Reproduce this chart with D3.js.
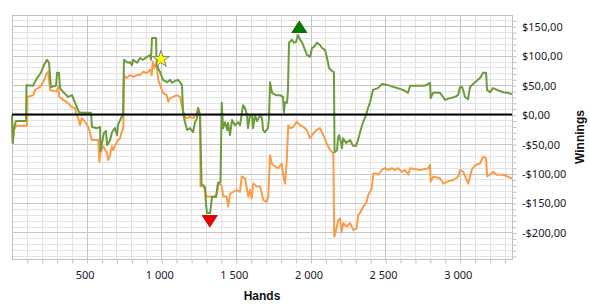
<!DOCTYPE html>
<html>
<head>
<meta charset="utf-8">
<script src="https://cdn.jsdelivr.net/npm/d3@7/dist/d3.min.js"></script>
<style>
  html, body { margin: 0; padding: 0; background: #fff; }
  svg { display: block; }
</style>
</head>
<body>
<svg id="chart" width="590" height="304"></svg>
<script>
// ---- data ----
const greenSeries = [[0,-1],[5,-48],[13,-23],[27,-11],[94,-11],[97,50],[141,49],[168,62],[194,71],[214,84],[235,93],[248,88],[261,47],[295,49],[302,71],[315,71],[322,45],[348,37],[375,30],[402,33],[415,25],[429,16],[449,4],[469,3],[529,3],[536,-21],[570,-23],[590,-21],[593,-62],[616,-31],[630,-28],[637,-52],[657,-43],[670,-30],[690,-23],[704,-35],[710,-18],[730,-6],[744,-1],[750,93],[777,88],[791,89],[804,84],[811,93],[838,88],[858,96],[878,93],[905,98],[925,101],[931,93],[938,130],[965,130],[968,96],[978,79],[992,72],[1012,59],[1039,55],[1059,59],[1072,54],[1092,57],[1112,59],[1126,55],[1139,50],[1146,4],[1159,-13],[1173,-26],[1193,-23],[1213,-30],[1226,-13],[1240,-6],[1246,11],[1260,-1],[1270,-119],[1293,-123],[1300,-153],[1307,-167],[1327,-167],[1340,-140],[1367,-140],[1380,-116],[1397,-114],[1405,20],[1414,-23],[1427,-13],[1441,-26],[1447,-14],[1461,-35],[1474,-9],[1494,-18],[1514,-13],[1528,-18],[1541,4],[1548,16],[1561,11],[1575,-1],[1581,-23],[1595,-1],[1608,-1],[1615,-23],[1628,-1],[1642,-11],[1662,-1],[1675,-6],[1682,-26],[1695,-30],[1715,-23],[1722,-6],[1729,55],[1742,37],[1769,33],[1796,33],[1816,30],[1822,4],[1829,21],[1843,20],[1849,42],[1856,122],[1876,127],[1889,122],[1903,123],[1916,135],[1930,127],[1943,123],[1963,110],[1977,101],[1997,98],[2010,113],[2023,115],[2044,122],[2064,118],[2077,113],[2097,110],[2111,96],[2124,79],[2144,74],[2157,72],[2161,-64],[2178,-60],[2184,-40],[2191,-35],[2204,-47],[2211,-57],[2218,-40],[2238,-48],[2265,-43],[2285,-53],[2305,-53],[2318,-43],[2332,-30],[2352,-13],[2372,-1],[2385,11],[2399,21],[2419,42],[2452,45],[2479,52],[2519,50],[2553,47],[2580,45],[2620,42],[2653,37],[2667,49],[2700,49],[2767,49],[2801,54],[2805,28],[2821,37],[2868,37],[2888,30],[2901,25],[2935,28],[2968,30],[2988,33],[3002,47],[3015,47],[3022,42],[3035,30],[3055,26],[3069,47],[3102,55],[3136,62],[3156,71],[3176,71],[3183,42],[3203,38],[3223,45],[3250,42],[3290,38],[3317,37],[3350,35]];

const orangeSeries = [[0,-1],[5,-48],[13,-26],[27,-19],[101,-19],[103,30],[143,33],[154,42],[188,47],[210,56],[221,62],[232,70],[243,73],[255,42],[299,39],[310,47],[317,30],[344,25],[377,19],[400,13],[422,11],[433,-1],[444,-6],[456,-18],[467,-6],[489,-12],[511,-21],[523,-31],[534,-43],[578,-43],[585,-80],[594,-63],[612,-54],[634,-63],[645,-77],[657,-69],[668,-54],[679,-60],[690,-52],[712,-43],[724,-40],[735,-29],[746,-23],[750,67],[768,62],[791,67],[813,64],[835,67],[858,67],[880,73],[902,70],[925,76],[936,67],[943,90],[951,79],[965,87],[974,73],[980,59],[992,50],[1014,36],[1036,33],[1047,22],[1059,28],[1081,30],[1103,33],[1126,30],[1137,16],[1148,5],[1159,-4],[1170,-6],[1193,-4],[1215,-6],[1237,2],[1248,11],[1260,-1],[1263,-122],[1282,-119],[1304,-139],[1349,-139],[1371,-136],[1382,-119],[1394,-117],[1405,-122],[1416,-139],[1438,-139],[1449,-156],[1461,-134],[1483,-131],[1505,-128],[1528,-131],[1539,-105],[1561,-108],[1583,-139],[1595,-128],[1606,-142],[1617,-117],[1639,-122],[1662,-122],[1684,-145],[1706,-148],[1717,-139],[1729,-69],[1740,-83],[1762,-88],[1784,-91],[1807,-83],[1818,-105],[1829,-117],[1840,-83],[1851,-18],[1863,-23],[1885,-21],[1907,-12],[1930,-18],[1952,-21],[1974,-26],[1997,-40],[2019,-32],[2041,-26],[2064,-23],[2086,-35],[2108,-49],[2131,-60],[2153,-66],[2159,-207],[2164,-204],[2186,-179],[2198,-176],[2209,-199],[2220,-184],[2242,-190],[2265,-184],[2287,-196],[2309,-193],[2320,-170],[2332,-167],[2354,-156],[2365,-153],[2376,-148],[2387,-136],[2399,-131],[2410,-125],[2421,-100],[2443,-100],[2454,-102],[2477,-94],[2499,-91],[2521,-94],[2544,-91],[2566,-94],[2588,-91],[2611,-97],[2633,-94],[2655,-102],[2667,-91],[2734,-94],[2789,-91],[2801,-85],[2805,-114],[2823,-105],[2868,-108],[2890,-117],[2912,-114],[2957,-111],[2990,-105],[3002,-94],[3024,-97],[3046,-111],[3057,-117],[3080,-94],[3102,-86],[3136,-83],[3158,-71],[3176,-74],[3184,-105],[3225,-97],[3247,-102],[3292,-102],[3337,-107],[3350,-108]];

const xTickValues = [500, 1000, 1500, 2000, 2500, 3000];
const yTickValues = [-200, -150, -100, -50, 0, 50, 100, 150];
const xDomain = [0, 3350];
const yDomain = [-245, 169];

// markers: star (yellow), minimum (red down triangle), maximum (green up triangle)
const markerTypes  = ["star", "min", "max"];
const markerHands  = [998, 1325, 1925];
const markerValues = [94, -167, 135];

const xTitle = "Hands";
const yTitle = "Winnings";

// ---- layout ----
const svg = d3.select("#chart");
const L = 12, R = 512, T = 15, B = 259;

const x = d3.scaleLinear().domain(xDomain).range([L, R]);
const y = d3.scaleLinear().domain(yDomain).range([B, T]);

const fmtThousands = d3.formatLocale({decimal: ",", thousands: "\u00a0", grouping: [3], currency: ["$", ""]}).format(",d");
const fmtY = v => (v < 0 ? "-$" : "$") + Math.abs(v) + ",00";

// grid
const g = svg.append("g");
const minorY = d3.range(-240, 170, 10).filter(v => v % 50 !== 0);
const majorY = d3.range(-200, 170, 50);
const minorX = d3.range(100, 3350, 100).filter(v => v % 500 !== 0);
const majorX = d3.range(500, 3350, 500);

g.selectAll(".my").data(minorY).enter().append("line")
  .attr("x1", L).attr("x2", R).attr("y1", d => Math.round(y(d)) + 0.5).attr("y2", d => Math.round(y(d)) + 0.5)
  .attr("stroke", "#e3e3e3").attr("stroke-width", 1);
g.selectAll(".mx").data(minorX).enter().append("line")
  .attr("y1", T).attr("y2", B).attr("x1", d => Math.round(x(d)) + 0.5).attr("x2", d => Math.round(x(d)) + 0.5)
  .attr("stroke", "#e3e3e3").attr("stroke-width", 1);
g.selectAll(".My").data(majorY).enter().append("line")
  .attr("x1", L).attr("x2", R).attr("y1", d => Math.round(y(d)) + 0.5).attr("y2", d => Math.round(y(d)) + 0.5)
  .attr("stroke", "#c6c6c6").attr("stroke-width", 1);
g.selectAll(".Mx").data(majorX).enter().append("line")
  .attr("y1", T).attr("y2", B).attr("x1", d => Math.round(x(d)) + 0.5).attr("x2", d => Math.round(x(d)) + 0.5)
  .attr("stroke", "#c6c6c6").attr("stroke-width", 1);

// border
svg.append("rect").attr("x", L + 0.5).attr("y", T + 0.5).attr("width", R - L).attr("height", B - T)
  .attr("fill", "none").attr("stroke", "#c0c0c0");

// axes ticks (minor)
const xMinorAxis = d3.axisBottom(x).tickValues(d3.range(100, 3350, 100)).tickSize(4).tickFormat("");
svg.append("g").attr("transform", `translate(0.5,${B + 0.5})`).call(xMinorAxis)
  .call(s => s.select(".domain").remove())
  .call(s => s.selectAll("line").attr("stroke", "#c0c0c0"));
const yMinorAxis = d3.axisRight(y).tickValues(d3.range(-240, 170, 10)).tickSize(4).tickFormat("");
svg.append("g").attr("transform", `translate(${R + 0.5},0.5)`).call(yMinorAxis)
  .call(s => s.select(".domain").remove())
  .call(s => s.selectAll("line").attr("stroke", "#c0c0c0"));

// axis labels
const xAxis = d3.axisBottom(x).tickValues(xTickValues).tickSize(0).tickPadding(0).tickFormat(fmtThousands);
svg.append("g").attr("transform", `translate(-2,0)`).call(xAxis)
  .call(s => s.select(".domain").remove())
  .call(s => s.selectAll("text").attr("y", 279).attr("dy", null)
    .attr("font-family", "'Noto Sans', 'Liberation Sans', sans-serif").attr("font-size", 11).attr("fill", "#1a1a2a"));

const yAxis = d3.axisRight(y).tickValues(yTickValues).tickSize(0).tickPadding(0).tickFormat(fmtY);
svg.append("g").attr("transform", `translate(0,0)`).call(yAxis)
  .call(s => s.select(".domain").remove())
  .call(s => s.selectAll("text").attr("x", 522).attr("dy", "0.36em")
    .attr("font-family", "'Noto Sans', 'Liberation Sans', sans-serif").attr("font-size", 11).attr("fill", "#1a1a2a"));

// titles
svg.append("text").attr("x", (L + R) / 2).attr("y", 300).attr("text-anchor", "middle")
  .attr("font-family", "'Liberation Sans', Arial, sans-serif").attr("font-weight", "bold").attr("font-size", 12)
  .attr("fill", "#111").text(xTitle);
svg.append("text").attr("transform", `translate(584,${(T + B) / 2}) rotate(-90)`).attr("text-anchor", "middle")
  .attr("font-family", "'Liberation Sans', Arial, sans-serif").attr("font-weight", "bold").attr("font-size", 12)
  .attr("fill", "#111").text(yTitle);

// lines
const line = d3.line().x(d => x(d[0])).y(d => y(d[1]));
svg.append("path").datum(orangeSeries).attr("d", line)
  .attr("fill", "none").attr("stroke", "#fb9c48").attr("stroke-width", 2).attr("stroke-linejoin", "round");
svg.append("path").datum(greenSeries).attr("d", line)
  .attr("fill", "none").attr("stroke", "#6c9c3c").attr("stroke-width", 2).attr("stroke-linejoin", "round");

// zero line
svg.append("line").attr("x1", L).attr("x2", R).attr("y1", y(0)).attr("y2", y(0))
  .attr("stroke", "#000").attr("stroke-width", 2);

// markers
const markers = markerTypes.map((t, i) => ({t, h: markerHands[i], v: markerValues[i]}));
markers.forEach(m => {
  const cx = x(m.h), cy = y(m.v);
  if (m.t === "star") {
    svg.append("path").attr("d", d3.symbol(d3.symbolStar, 90)())
      .attr("transform", `translate(${cx},${cy})`)
      .attr("fill", "#ffff00").attr("stroke", "#7a7a99").attr("stroke-width", 1);
  } else if (m.t === "min") {
    svg.append("path").attr("d", "M-7.5,-5.5L7.5,-5.5L0,6Z")
      .attr("transform", `translate(${cx},${cy + 8})`)
      .attr("fill", "#ee0000").attr("stroke", "#b00000").attr("stroke-width", 0.8);
  } else {
    svg.append("path").attr("d", "M-7.5,5.5L7.5,5.5L0,-6Z")
      .attr("transform", `translate(${cx},${cy - 8})`)
      .attr("fill", "#007a00").attr("stroke", "#005a00").attr("stroke-width", 0.8);
  }
});
</script>
</body>
</html>
